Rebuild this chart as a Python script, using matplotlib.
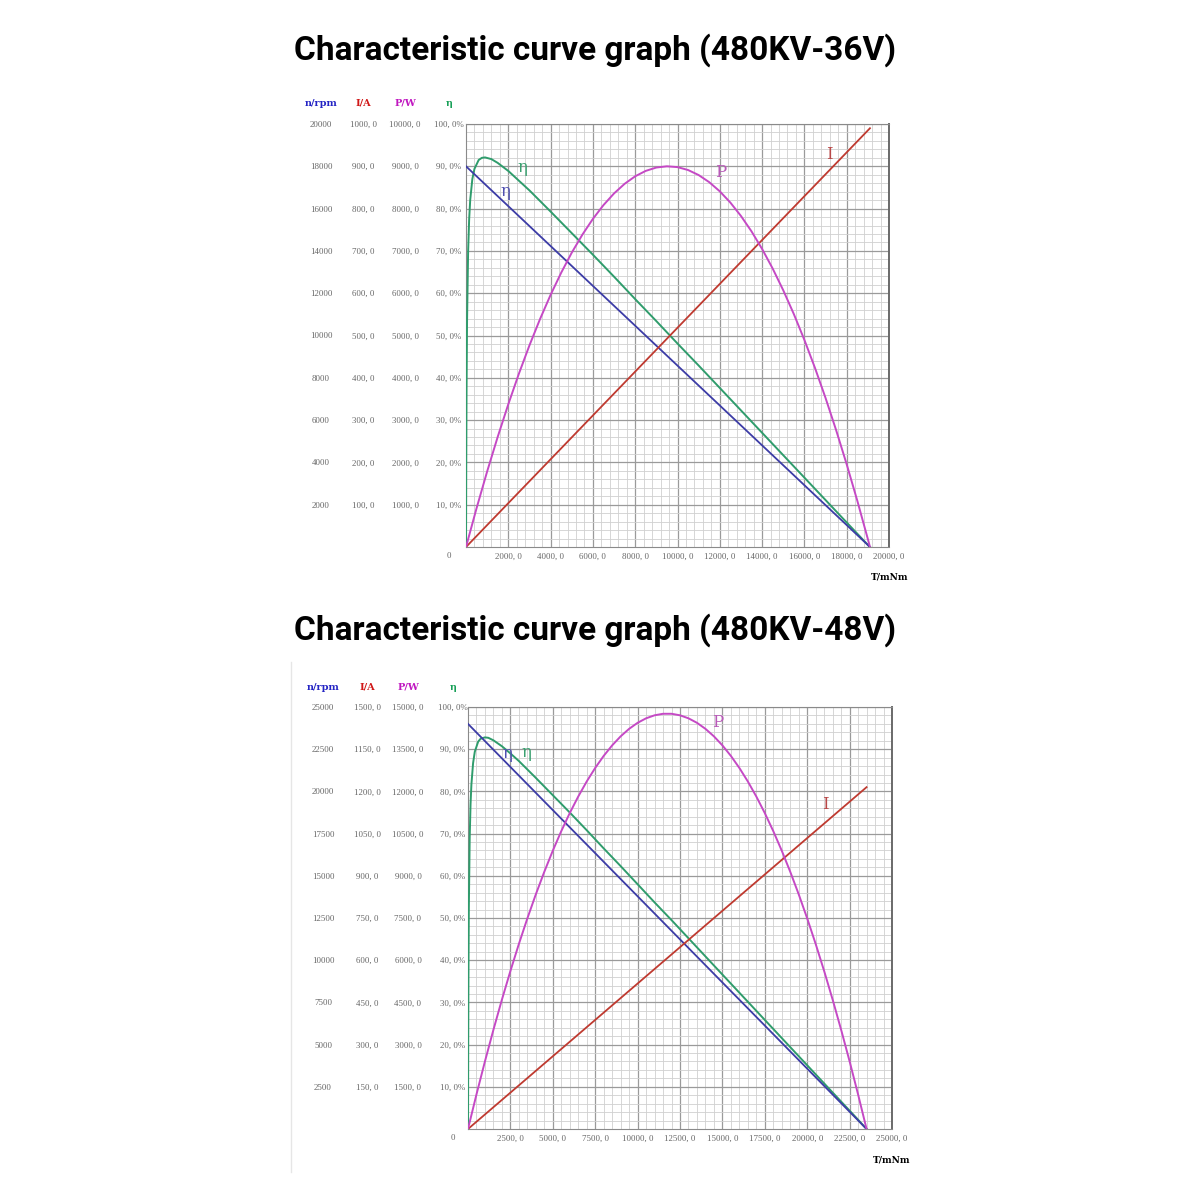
import matplotlib.pyplot as plt
from matplotlib.lines import Line2D

# ---- 480KV-36V ----
top_speed_t = [0, 19100]
top_speed = [18000, 0]            # rpm
top_current_t = [0, 19100]
top_current = [0, 990]            # A
top_power_t = [0, 500, 1000, 1500, 2000, 2500, 3000, 3500, 4000, 4500, 5000,
               5500, 6000, 6500, 7000, 7500, 8000, 8500, 9000, 9500, 10000,
               10500, 11000, 11500, 12000, 12500, 13000, 13500, 14000, 14500,
               15000, 15500, 16000, 16500, 17000, 17500, 18000, 18500, 19000, 19100]
top_power = [0, 918, 1786, 2605, 3375, 4096, 4767, 5388, 5961, 6484, 6958,
             7382, 7757, 8083, 8359, 8586, 8764, 8892, 8971, 9000, 8981,
             8912, 8793, 8625, 8408, 8142, 7826, 7461, 7046, 6583,
             6069, 5507, 4895, 4234, 3523, 2763, 1954, 1096, 188, 0]   # W
top_eff_t = [0, 10, 25, 50, 100, 150, 200, 300, 400, 600, 750, 900, 1200, 1500,
             2000, 2500, 3000, 4000, 5000, 6000, 7000, 8000, 9000, 10000, 11000,
             12000, 13000, 14000, 15000, 16000, 17000, 18000, 19000, 19100]
top_eff = [0, 18.6, 36.4, 53.5, 69.8, 77.6, 82.1, 87.0, 89.4, 91.5, 92.0, 92.1,
           91.7, 90.8, 88.9, 86.6, 84.3, 79.3, 74.2, 69.1, 63.9, 58.6, 53.4,
           48.1, 42.9, 37.6, 32.3, 27.0, 21.7, 16.4, 11.1, 5.8, 0.5, 0]   # %

# ---- 480KV-48V ----
bot_speed_t = [0, 23500]
bot_speed = [24000, 0]
bot_current_t = [0, 23500]
bot_current = [0, 1215]
bot_power_t = [0, 500, 1000, 1500, 2000, 2500, 3000, 3500, 4000, 4500, 5000,
               5500, 6000, 6500, 7000, 7500, 8000, 8500, 9000, 9500, 10000,
               10500, 11000, 11500, 12000, 12500, 13000, 13500, 14000, 14500,
               15000, 15500, 16000, 16500, 17000, 17500, 18000, 18500, 19000,
               19500, 20000, 20500, 21000, 21500, 22000, 22500, 23000, 23500]
bot_power = [0, 1230, 2406, 3529, 4599, 5615, 6577, 7486, 8342, 9144, 9893,
             10588, 11230, 11818, 12353, 12834, 13262, 13636, 13957, 14224, 14438,
             14598, 14705, 14759, 14759, 14705, 14598, 14438, 14224, 13957,
             13636, 13262, 12834, 12353, 11818, 11230, 10588, 9893, 9144,
             8342, 7486, 6577, 5615, 4599, 3529, 2406, 1230, 0]
bot_eff_t = [0, 10, 25, 50, 100, 150, 200, 300, 400, 600, 750, 1000, 1200, 1500,
             2000, 2500, 3000, 4000, 5000, 6000, 7000, 8000, 9000, 10000, 11000,
             12000, 13000, 14000, 15000, 16000, 17000, 18000, 19000, 20000,
             21000, 22000, 23000, 23500]
bot_eff = [0, 17.9, 35.5, 52.5, 69.0, 77.0, 81.6, 86.7, 89.4, 91.8, 92.5, 92.8,
           92.7, 92.1, 90.7, 89.0, 87.2, 83.2, 79.1, 75.0, 70.8, 66.5, 62.3,
           58.0, 53.7, 49.5, 45.2, 40.9, 36.6, 32.3, 28.0, 23.7, 19.4, 15.1,
           10.8, 6.5, 2.2, 0]

top_n_ticks = list(range(2000, 20001, 2000))
top_i_ticks = list(range(100, 1001, 100))
top_p_ticks = list(range(1000, 10001, 1000))
top_x_ticks = list(range(2000, 20001, 2000))

bot_n_ticks = list(range(2500, 25001, 2500))
bot_i_ticks = list(range(150, 1501, 150))
bot_i_labels = ["150, 0", "300, 0", "450, 0", "600, 0", "750, 0", "900, 0",
                "1050, 0", "1200, 0", "1150, 0", "1500, 0"]
bot_p_ticks = list(range(1500, 15001, 1500))
bot_x_ticks = list(range(2500, 25001, 2500))

eta_ticks = list(range(10, 101, 10))

N_COLOR = "#3c3ca6"
I_COLOR = "#bf3a30"
P_COLOR = "#c549c5"
E_COLOR = "#2f9c6c"

TICK_FONT = dict(family="Liberation Serif", size=6.4, color="#666666")


def px(x):
    return x / 1200


def py(y):
    return 1 - y / 1200


def make_panel(fig, rect, xmax, x_ticks, x_minor, n_max, i_max, p_max,
               n_ticks, i_ticks, i_labels, p_ticks, p_labels, cols, header_y):
    ax = fig.add_axes(rect)
    ax.set_xlim(0, xmax)
    ax.set_ylim(0, 100)
    ax.set_xticks(x_ticks, [f"{v}, 0" for v in x_ticks])
    ax.set_xticks([v for v in range(0, xmax + 1, x_minor)], minor=True)
    ax.set_yticks(eta_ticks, [f"{v}, 0%" for v in eta_ticks])
    ax.set_yticks(list(range(0, 101, 2)), minor=True)
    ax.grid(which="major", color="#9a9a9a", lw=0.9)
    ax.grid(which="minor", color="#d0d0d0", lw=0.6)
    ax.set_axisbelow(True)
    for s in ax.spines.values():
        s.set_color("#8a8a8a")
    ax.spines["right"].set_color("#6a6a6a")
    ax.spines["right"].set_linewidth(1.4)
    ax.tick_params(which="both", length=0)
    ax.tick_params(axis="x", pad=4, labelsize=TICK_FONT["size"], labelcolor=TICK_FONT["color"])
    left_px = rect[0] * 1200
    eta_off = (left_px - cols[3]) * 0.72
    ax.tick_params(axis="y", pad=eta_off, labelsize=TICK_FONT["size"], labelcolor=TICK_FONT["color"])
    for lab in ax.get_xticklabels() + ax.get_yticklabels():
        lab.set_family(TICK_FONT["family"])
    plt.setp(ax.get_yticklabels(), ha="center")

    twins = []
    specs = [(n_max, n_ticks, [str(v) for v in n_ticks], cols[0]),
             (i_max, i_ticks, i_labels, cols[1]),
             (p_max, p_ticks, p_labels, cols[2])]
    for ymax, ticks, labels, col in specs:
        tw = ax.twinx()
        tw.set_ylim(0, ymax)
        tw.yaxis.set_ticks_position("left")
        for s in tw.spines.values():
            s.set_visible(False)
        tw.spines["left"].set_position(("outward", (left_px - col) * 0.72))
        tw.set_yticks(ticks, labels)
        tw.tick_params(axis="y", length=0, pad=0, labelsize=TICK_FONT["size"],
                       labelcolor=TICK_FONT["color"])
        for lab in tw.get_yticklabels():
            lab.set_family(TICK_FONT["family"])
            lab.set_horizontalalignment("center")
        twins.append(tw)

    headers = [("n/rpm", "#2424c4"), ("I/A", "#d01818"), ("P/W", "#c018c0"), ("η", "#18a058")]
    for (txt, c), col in zip(headers, cols):
        fig.text(px(col), py(header_y), txt, color=c, ha="center", va="center",
                 fontsize=7, fontweight="bold", family="DejaVu Serif")
    return ax, twins


fig = plt.figure(figsize=(12, 12), dpi=100)
fig.patch.set_facecolor("white")

# ---------------- top panel ----------------
ax1, (n1, i1, p1) = make_panel(
    fig, [px(466), py(547), 423 / 1200, 423 / 1200], 20000, top_x_ticks, 400,
    20000, 1000, 10000, top_n_ticks, top_i_ticks,
    [f"{v}, 0" for v in top_i_ticks], top_p_ticks,
    [f"{v}, 0" for v in top_p_ticks], [321, 363, 405, 449], 103)
ax1.plot(top_eff_t, top_eff, color=E_COLOR, lw=1.4, zorder=5)
n1.plot(top_speed_t, top_speed, color=N_COLOR, lw=1.3)
i1.plot(top_current_t, top_current, color=I_COLOR, lw=1.3)
p1.plot(top_power_t, top_power, color=P_COLOR, lw=1.4)

ax1.text(2650, 89.6, "η", color="#3aa070", fontsize=12, family="DejaVu Serif", ha="center", va="center", zorder=6)
ax1.text(1850, 84.0, "η", color="#5050b0", fontsize=12, family="DejaVu Serif", ha="center", va="center", zorder=6)
ax1.text(12050, 88.6, "P", color="#b85ab8", fontsize=12, family="DejaVu Serif", ha="center", va="center", zorder=6)
ax1.text(17200, 92.7, "I", color="#b84848", fontsize=12, family="DejaVu Serif", ha="center", va="center", zorder=6)
fig.text(px(449), py(556), "0", ha="center", va="center", **TICK_FONT)
fig.text(px(890), py(577), "T/mNm", ha="center", va="center", fontsize=6.5,
         fontweight="bold", family="DejaVu Serif")
fig.text(px(595), py(50), "Characteristic curve graph (480KV-36V)", ha="center",
         va="center", fontsize=24, fontweight="bold", family="Roboto")

# ---------------- bottom panel ----------------
ax2, (n2, i2, p2) = make_panel(
    fig, [px(468), py(1129), 424 / 1200, 422 / 1200], 25000, bot_x_ticks, 500,
    25000, 1500, 15000, bot_n_ticks, bot_i_ticks, bot_i_labels, bot_p_ticks,
    [f"{v}, 0" for v in bot_p_ticks], [323, 367, 408, 453], 687)
ax2.plot(bot_eff_t, bot_eff, color=E_COLOR, lw=1.4, zorder=5)
n2.plot(bot_speed_t, bot_speed, color=N_COLOR, lw=1.3)
i2.plot(bot_current_t, bot_current, color=I_COLOR, lw=1.3)
p2.plot(bot_power_t, bot_power, color=P_COLOR, lw=1.4)

ax2.text(2300, 88.9, "η", color="#5050b0", fontsize=12, family="DejaVu Serif", ha="center", va="center", zorder=6)
ax2.text(3450, 89.3, "η", color="#3aa070", fontsize=12, family="DejaVu Serif", ha="center", va="center", zorder=6)
ax2.text(14750, 96.4, "P", color="#b85ab8", fontsize=12, family="DejaVu Serif", ha="center", va="center", zorder=6)
ax2.text(21100, 76.8, "I", color="#b84848", fontsize=12, family="DejaVu Serif", ha="center", va="center", zorder=6)
fig.text(px(453), py(1138), "0", ha="center", va="center", **TICK_FONT)
fig.text(px(892), py(1160), "T/mNm", ha="center", va="center", fontsize=6.5,
         fontweight="bold", family="DejaVu Serif")
fig.text(px(595), py(630), "Characteristic curve graph (480KV-48V)", ha="center",
         va="center", fontsize=24, fontweight="bold", family="Roboto")

# faint border line left of the lower chart, as in the source image
fig.add_artist(Line2D([px(291), px(291)], [py(662), py(1172)], color="#e6e6e6", lw=1))

fig.savefig("out.png", dpi=100, facecolor="white")
